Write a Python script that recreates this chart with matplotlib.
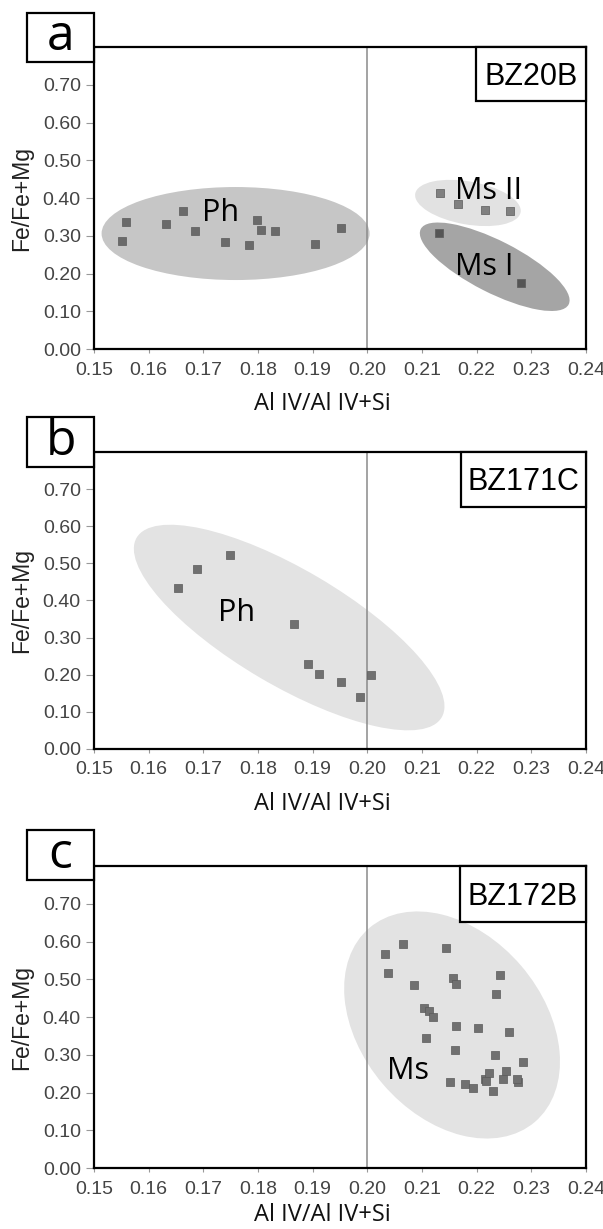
import numpy as np
import matplotlib
matplotlib.use('Agg')
import matplotlib.pyplot as plt
from matplotlib.patches import Ellipse, Rectangle
from matplotlib.transforms import ScaledTranslation

# panel a (BZ20B)
ph_a_x = [0.1552, 0.1559, 0.1632, 0.1662, 0.1685, 0.1740, 0.1784, 0.1799, 0.1806, 0.1832, 0.1905, 0.1951]
ph_a_y = [0.286, 0.337, 0.331, 0.366, 0.314, 0.283, 0.276, 0.343, 0.315, 0.313, 0.278, 0.321]
ms2_a_x = [0.2133, 0.2166, 0.2215, 0.2261]
ms2_a_y = [0.413, 0.384, 0.369, 0.367]
ms1_a_x = [0.2132, 0.2282]
ms1_a_y = [0.308, 0.174]

# panel b (BZ171C)
ph_b_x = [0.1653, 0.1689, 0.1749, 0.1866, 0.1891, 0.1911, 0.1952, 0.1986, 0.2007]
ph_b_y = [0.434, 0.485, 0.523, 0.337, 0.228, 0.203, 0.181, 0.141, 0.198]

# panel c (BZ172B)
ms_c_x = [0.2032, 0.2037, 0.2066, 0.2086, 0.2104, 0.2113, 0.2121, 0.2108, 0.2144, 0.2156,
          0.2163, 0.2163, 0.2161, 0.2152, 0.2178, 0.2193, 0.2203, 0.2215, 0.2223, 0.2217,
          0.2230, 0.2233, 0.2236, 0.2242, 0.2253, 0.2248, 0.2259, 0.2275, 0.2273, 0.2284]
ms_c_y = [0.568, 0.516, 0.594, 0.485, 0.424, 0.415, 0.400, 0.344, 0.584, 0.503,
          0.488, 0.375, 0.313, 0.227, 0.222, 0.211, 0.371, 0.235, 0.251, 0.230,
          0.204, 0.300, 0.462, 0.512, 0.256, 0.235, 0.360, 0.227, 0.236, 0.280]

xticks = [0.15, 0.16, 0.17, 0.18, 0.19, 0.20, 0.21, 0.22, 0.23, 0.24]
yticks = [0.00, 0.10, 0.20, 0.30, 0.40, 0.50, 0.60, 0.70]

NARROW = ['Liberation Sans Narrow', 'Liberation Sans', 'DejaVu Sans']
ARIAL = ['Liberation Sans', 'DejaVu Sans']
HUMAN = ['Open Sans', 'Noto Sans', 'DejaVu Sans']

fig = plt.figure(figsize=(6.03, 12.29), dpi=100)


def blob(ax, cx, cy, w_px, h_px, angle, color):
    # ellipse sized in pixels, centred on a data point
    tr = fig.dpi_scale_trans + ScaledTranslation(cx, cy, ax.transData)
    ax.add_patch(Ellipse((0, 0), w_px / 100, h_px / 100, angle=angle, transform=tr,
                         facecolor=color, edgecolor='none', zorder=1))


def setup(ax, letter, sample, letter_box, sample_box, xlab_y):
    ax.set_xlim(0.15, 0.24)
    ax.set_ylim(0, 0.80)
    ax.set_xticks(xticks)
    ax.set_yticks(yticks)
    ax.set_xticklabels([f'{t:.2f}' for t in xticks], fontfamily=NARROW, fontsize=14, color='#444444')
    ax.set_yticklabels([f'{t:.2f}' for t in yticks], fontfamily=NARROW, fontsize=14, color='#444444')
    ax.tick_params(axis='y', length=5.5, width=0.8, color='#999999', pad=4)
    ax.tick_params(axis='x', length=3, width=0.8, color='#999999', pad=6)
    for s in ax.spines.values():
        s.set_linewidth(1.6)
        s.set_color('black')
    ax.axvline(0.20, color='#8a8a8a', lw=1.1, zorder=2)

    ax.set_xlabel('Al IV/Al IV+Si', fontfamily=HUMAN, fontsize=17, color='#111111')
    ax.xaxis.set_label_coords(0.464, xlab_y)
    ax.xaxis.label.set_va('baseline')
    ax.set_ylabel('Fe/Fe+Mg', fontfamily=ARIAL, fontsize=16.5, color='#222222')
    ax.yaxis.set_label_coords(-0.124, 0.5)

    x0, y0, x1, y1 = letter_box
    ax.add_patch(Rectangle((x0, y0), x1 - x0, y1 - y0, transform=ax.transAxes, facecolor='white',
                           edgecolor='black', lw=1.6, clip_on=False, zorder=6))
    ax.text((x0 + x1) / 2, (y0 + y1) / 2, letter, transform=ax.transAxes, ha='center', va='center',
            fontfamily=HUMAN, fontsize=36, color='black', zorder=7)

    x0, y0, x1, y1 = sample_box
    ax.add_patch(Rectangle((x0, y0), x1 - x0, y1 - y0, transform=ax.transAxes, facecolor='white',
                           edgecolor='black', lw=1.6, clip_on=False, zorder=6))
    ax.text((x0 + x1) / 2, y0 + (y1 - y0) * 0.30, sample, transform=ax.transAxes, ha='center',
            va='baseline', fontfamily=ARIAL, fontsize=22, color='black', zorder=7)


def pts(ax, x, y, color='#707070'):
    ax.scatter(x, y, marker='s', s=40, color=color, edgecolors='#5a5a5a', linewidths=0.5, zorder=4)


def tag(ax, x, y, s):
    ax.text(x, y, s, ha='left', va='baseline', fontfamily=HUMAN, fontsize=22, color='black', zorder=5)


# ---- a ----
ax_a = fig.add_axes([0.1559, 0.7160, 0.8159, 0.2457])
setup(ax_a, 'a', 'BZ20B', (-0.136, 0.950, 0.0, 1.113), (0.776, 0.821, 1.0, 1.0), -0.202)
blob(ax_a, 0.1759, 0.306, 268, 93, 0, '#c6c6c6')
blob(ax_a, 0.2184, 0.387, 107, 43, -10, '#e2e2e2')
blob(ax_a, 0.2233, 0.218, 166, 52, -27, '#a5a5a5')
pts(ax_a, ph_a_x, ph_a_y, '#6a6a6a')
pts(ax_a, ms2_a_x, ms2_a_y, '#808080')
pts(ax_a, ms1_a_x, ms1_a_y, '#555555')
tag(ax_a, 0.1697, 0.338, 'Ph')
tag(ax_a, 0.2160, 0.397, 'Ms II')
tag(ax_a, 0.2160, 0.196, 'Ms I')

# ---- b ----
ax_b = fig.add_axes([0.1559, 0.3906, 0.8159, 0.2417])
setup(ax_b, 'b', 'BZ171C', (-0.136, 0.949, 0.0, 1.118), (0.746, 0.815, 1.0, 1.0), -0.205)
blob(ax_b, 0.1857, 0.327, 354, 116, -30.5, '#e3e3e3')
pts(ax_b, ph_b_x, ph_b_y)
tag(ax_b, 0.1727, 0.344, 'Ph')

# ---- c ----
ax_c = fig.add_axes([0.1559, 0.0496, 0.8159, 0.2457])
setup(ax_c, 'c', 'BZ172B', (-0.136, 0.954, 0.0, 1.119), (0.744, 0.815, 1.0, 1.0), -0.177)
blob(ax_c, 0.2155, 0.379, 255, 182, -49.5, '#e3e3e3')
pts(ax_c, ms_c_x, ms_c_y)
tag(ax_c, 0.2036, 0.237, 'Ms')

fig.savefig('out.png', dpi=100)
